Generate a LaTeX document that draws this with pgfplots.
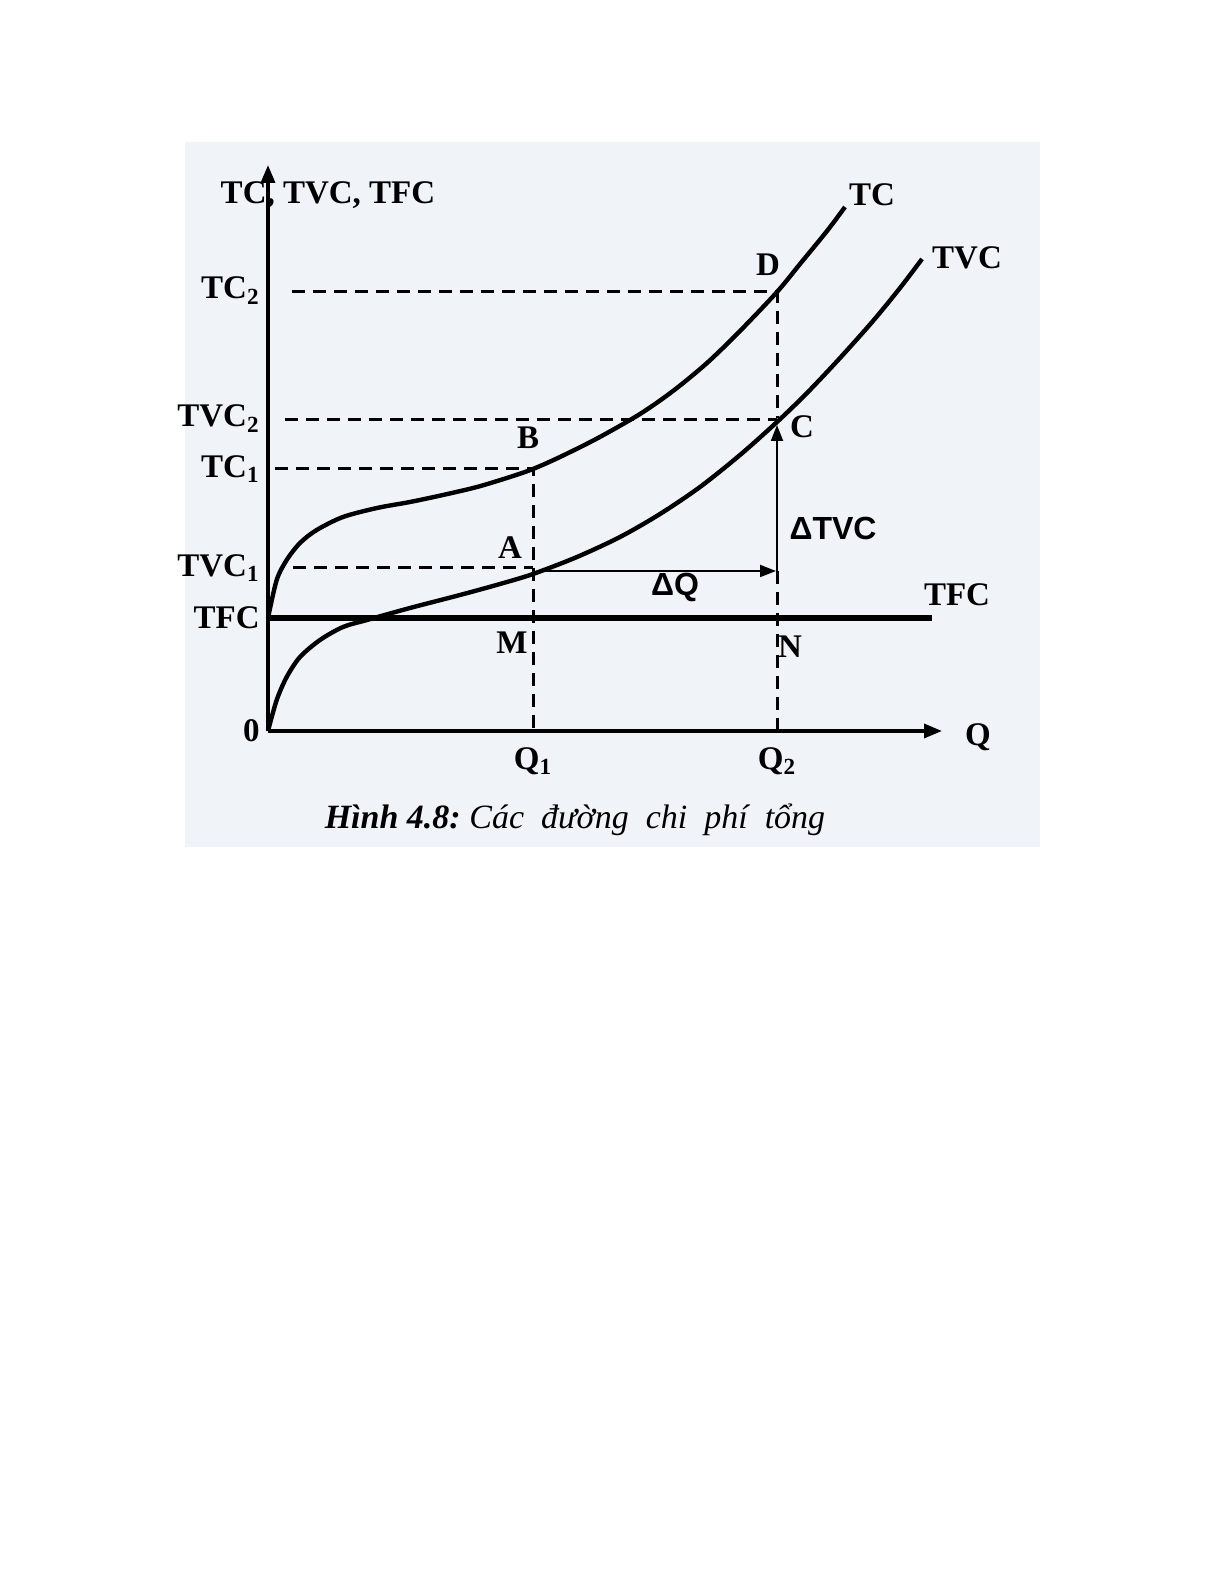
\documentclass[border=0pt]{standalone}
\usepackage{fontspec}
\setmainfont{Liberation Serif}
\setsansfont{Liberation Sans}
\usepackage{pgfplots}
\pgfplotsset{compat=1.18}
\usetikzlibrary{arrows.meta}
\definecolor{panel}{RGB}{240,243,247}
\newcommand\LB{\fontsize{16.5}{18}\selectfont\bfseries}
\begin{document}
\begin{tikzpicture}
\fill[white] (0,0) rectangle (612.5pt,792.5pt);
\fill[panel] (92.5pt,369pt) rectangle (520pt,721.5pt);
\begin{axis}[
  at={(134pt,427pt)}, anchor=origin,
  x=0.5pt, y=0.5pt,
  xmin=0, xmax=674, ymin=0, ymax=566,
  axis lines=left,
  axis line style={line width=1.7pt, -{Triangle[length=9pt,width=7pt]}},
  clip=false,
  xtick={265,509}, xticklabels={Q\textsubscript{1},Q\textsubscript{2}},
  ytick={0,113,163,262,311,439},
  yticklabels={0,TFC,TVC\textsubscript{1},TC\textsubscript{1},\raisebox{4pt}{TVC\textsubscript{2}},\raisebox{4pt}{TC\textsubscript{2}}},
  major tick length=0pt,
  tick style={draw=none},
  tick label style={font=\LB, inner sep=0pt},
  yticklabel style={anchor=east, xshift=-4pt},
  xticklabel style={anchor=north, yshift=-8pt},
]
% TFC
\addplot[line width=3pt] coordinates {(0,113) (664,113)};
% TC
\addplot[smooth, line width=2.2pt] coordinates {
(0,113) (8.7,151) (18.7,171) (32,188) (48.7,201) (75,214) (109,223) (142,229)
(175,236) (209,244) (242,254) (265,262) (292,274) (330,293) (372,317) (405,340)
(439,368) (472,400) (509,439) (532,467) (559,500) (577,524)};
% TVC
\addplot[smooth, line width=2.2pt] coordinates {
(0,0) (8.7,31) (18.7,54) (32,74) (52,91) (75,104) (99,111) (142,123) (192,136)
(232,147) (265,157) (309,174) (352,194) (392,217) (432,244) (472,276) (509,309)
(539,338) (572,373) (605,410) (632,443) (654,472)};
% dashed guides
\addplot[line width=1.5pt, dash pattern=on 6.5pt off 4pt] coordinates {(24,439) (509,439) (509,313)};
\addplot[line width=1.5pt, dash pattern=on 6.5pt off 4pt] coordinates {(17,311) (509,311)};
\addplot[line width=1.5pt, dash pattern=on 6.5pt off 4pt] coordinates {(7,262) (265,262) (265,0)};
\addplot[line width=1.5pt, dash pattern=on 6.5pt off 4pt] coordinates {(25,163) (265,163)};
\addplot[line width=1.5pt, dash pattern=on 6.5pt off 4pt] coordinates {(509,160) (509,0)};
% Delta arrows
\addplot[line width=1pt, -{Triangle[length=8pt,width=6pt]}] coordinates {(276,160) (508,160)};
\addplot[line width=1pt, -{Triangle[length=8pt,width=6pt]}] coordinates {(509,160) (509,306)};
% labels
\node[font=\LB] at (axis cs:60,536) {TC, TVC, TFC};
\node[font=\LB] at (axis cs:260,293) {B};
\node[font=\LB] at (axis cs:242,183) {A};
\node[font=\LB] at (axis cs:244,88) {M};
\node[font=\LB] at (axis cs:500,466) {D};
\node[font=\LB] at (axis cs:534,304) {C};
\node[font=\LB] at (axis cs:522,84) {N};
\node[font=\fontsize{16}{18}\selectfont\sffamily\bfseries] at (axis cs:407,144) {ΔQ};
\node[font=\fontsize{16}{18}\selectfont\sffamily\bfseries] at (axis cs:565,203) {ΔTVC};
\node[font=\LB] at (axis cs:689,136) {TFC};
\node[font=\LB] at (axis cs:604,536) {TC};
\node[font=\LB] at (axis cs:699,473) {TVC};
\node[font=\LB] at (axis cs:710,-6) {Q};
\node[font=\fontsize{17}{20}\selectfont\itshape] at (axis cs:307,-89) {\bfseries Hình 4.8:\mdseries\ Các\ \ đường\ \ chi\ \ phí\ \ tổng};
\end{axis}
\end{tikzpicture}
\end{document}
